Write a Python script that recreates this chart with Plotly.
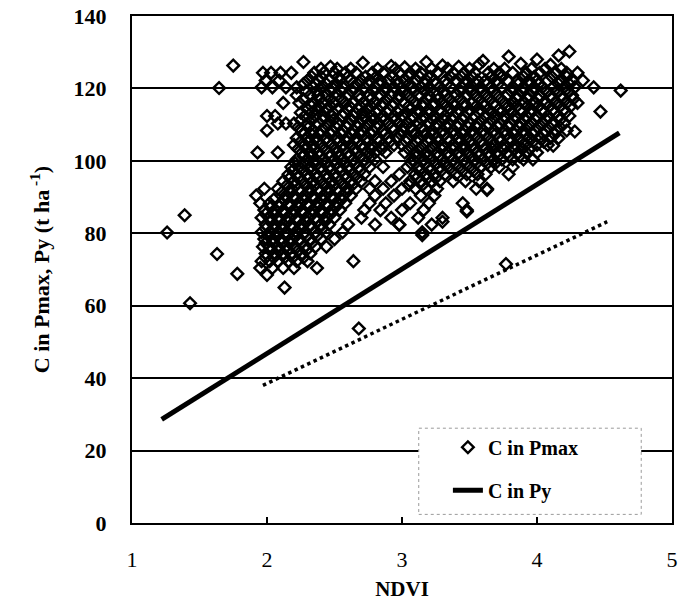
import plotly.graph_objects as go

# ---- C in Pmax scatter: rows of points (NDVI values at each C level) ----
row_levels = [124.3, 122.2, 120.3, 118.1, 116.0, 114.2, 112.4, 110.3, 108.4, 106.3, 104.4,
              102.3, 100.4, 98.3, 96.3, 94.4, 92.3, 90.4, 88.3, 86.4, 84.3, 82.4, 80.3,
              78.4, 76.3, 74.4, 72.3, 70.4]

r124 = [1.97, 2.03, 2.10, 2.18, 2.35, 2.42, 2.50, 2.58, 2.66, 2.78, 2.86, 2.98, 3.06, 3.14, 3.26,
        3.38, 3.46, 3.54, 3.64, 3.72, 3.82, 3.92, 4.02, 4.14, 4.22, 4.30]
r122 = [1.99, 2.09, 2.30, 2.38, 2.46, 2.54, 2.62, 2.70, 2.76, 2.84, 2.90, 2.96, 3.02, 3.10, 3.18,
        3.24, 3.32, 3.40, 3.48, 3.56, 3.62, 3.70, 3.78, 3.86, 3.94, 4.00, 4.08, 4.18, 4.26, 4.34]
r120 = [1.96, 2.04, 2.14, 2.22, 2.34, 2.40, 2.48, 2.56, 2.64, 2.72, 2.80, 2.88, 2.94, 3.00, 3.08,
        3.14, 3.20, 3.28, 3.36, 3.44, 3.50, 3.58, 3.66, 3.74, 3.82, 3.90, 3.98, 4.04, 4.12, 4.20, 4.28]
r118 = [2.22, 2.32, 2.38, 2.44, 2.52, 2.60, 2.68, 2.76, 2.84, 2.92, 2.98, 3.04, 3.12, 3.20, 3.26,
        3.32, 3.40, 3.48, 3.54, 3.62, 3.70, 3.78, 3.86, 3.94, 4.02, 4.10, 4.18, 4.26]
r116 = [2.12, 2.24, 2.34, 2.42, 2.50, 2.58, 2.64, 2.72, 2.80, 2.86, 2.94, 3.02, 3.10, 3.16, 3.24,
        3.30, 3.38, 3.46, 3.52, 3.60, 3.68, 3.76, 3.82, 3.90, 3.98, 4.06, 4.14, 4.22, 4.30]
r114 = [2.30, 2.36, 2.44, 2.52, 2.60, 2.68, 2.74, 2.82, 2.90, 2.98, 3.06, 3.12, 3.20, 3.28, 3.36,
        3.42, 3.50, 3.58, 3.64, 3.72, 3.80, 3.88, 3.96, 4.04, 4.12, 4.20]
r112 = [2.00, 2.06, 2.28, 2.36, 2.42, 2.48, 2.56, 2.64, 2.72, 2.78, 2.86, 2.94, 3.00, 3.08, 3.16,
        3.24, 3.32, 3.38, 3.46, 3.54, 3.62, 3.70, 3.76, 3.84, 3.92, 4.00, 4.08, 4.16, 4.24]
r110 = [2.08, 2.14, 2.20, 2.30, 2.38, 2.46, 2.52, 2.60, 2.68, 2.76, 2.82, 2.90, 2.98, 3.04, 3.12,
        3.20, 3.26, 3.34, 3.42, 3.50, 3.56, 3.64, 3.72, 3.80, 3.88, 3.96, 4.04, 4.12, 4.20]
r108 = [2.00, 2.26, 2.34, 2.40, 2.48, 2.56, 2.64, 2.70, 2.78, 2.86, 2.94, 3.00, 3.08, 3.16, 3.22,
        3.30, 3.38, 3.46, 3.52, 3.60, 3.68, 3.76, 3.84, 3.90, 3.98, 4.06, 4.14, 4.22]
r106 = [2.22, 2.30, 2.36, 2.44, 2.52, 2.60, 2.66, 2.74, 2.82, 2.90, 2.96, 3.04, 3.12, 3.20, 3.26,
        3.34, 3.42, 3.48, 3.56, 3.64, 3.72, 3.80, 3.86, 3.94, 4.02, 4.10, 4.16]
r104 = [2.20, 2.28, 2.34, 2.40, 2.48, 2.56, 2.62, 2.70, 2.78, 2.86, 2.94, 3.00, 3.08, 3.16, 3.24,
        3.30, 3.38, 3.46, 3.52, 3.60, 3.68, 3.76, 3.84, 3.92, 4.00, 4.08]
r102 = [1.93, 2.08, 2.26, 2.32, 2.38, 2.46, 2.52, 2.60, 2.66, 2.74, 2.80, 2.88, 3.02, 3.10, 3.18,
        3.26, 3.34, 3.42, 3.48, 3.56, 3.64, 3.70, 3.78, 3.86, 3.92, 4.00]
r100 = [2.22, 2.30, 2.36, 2.42, 2.50, 2.56, 2.64, 2.72, 2.80, 3.08, 3.16, 3.22, 3.30, 3.38, 3.46,
        3.54, 3.60, 3.68, 3.74, 3.82, 3.90, 3.97]
r98 = [2.18, 2.24, 2.32, 2.40, 2.46, 2.54, 2.60, 2.68, 2.76, 2.86, 3.04, 3.12, 3.20, 3.28, 3.34,
       3.42, 3.50, 3.58, 3.66, 3.72, 3.82]
r96 = [2.16, 2.22, 2.30, 2.36, 2.44, 2.50, 2.58, 2.64, 2.72, 2.98, 3.10, 3.18, 3.24, 3.32, 3.40,
       3.48, 3.56, 3.62, 3.79]
r94 = [2.12, 2.20, 2.26, 2.34, 2.40, 2.48, 2.54, 2.62, 2.70, 2.80, 2.92, 3.06, 3.14, 3.22, 3.28,
       3.38, 3.47, 3.57]
r92 = [1.98, 2.08, 2.18, 2.24, 2.32, 2.38, 2.46, 2.52, 2.60, 2.66, 2.76, 2.86, 3.00, 3.10, 3.18,
       3.26, 3.55, 3.63]
r90 = [1.92, 2.14, 2.20, 2.28, 2.34, 2.42, 2.48, 2.56, 2.62, 2.80, 2.94, 3.14, 3.24]
r88 = [1.95, 2.02, 2.10, 2.16, 2.24, 2.30, 2.38, 2.44, 2.52, 2.58, 2.76, 2.88, 3.06, 3.20, 3.45]
r86 = [1.98, 2.06, 2.12, 2.20, 2.26, 2.34, 2.40, 2.48, 2.54, 2.72, 2.84, 3.00, 3.16, 3.48]
r84 = [1.96, 2.02, 2.08, 2.16, 2.22, 2.30, 2.36, 2.44, 2.50, 2.70, 2.92, 3.12, 3.30]
r82 = [1.99, 2.06, 2.12, 2.18, 2.26, 2.32, 2.40, 2.46, 2.60, 2.80, 2.98, 3.22]
r80 = [1.96, 2.02, 2.08, 2.14, 2.22, 2.28, 2.36, 2.44, 2.56, 3.15]
r78 = [1.98, 2.04, 2.10, 2.18, 2.24, 2.32, 2.40, 2.50]
r76 = [1.97, 2.02, 2.08, 2.14, 2.20, 2.28, 2.36, 2.44]
r74 = [1.99, 2.06, 2.12, 2.18, 2.26, 2.32]
r72 = [1.96, 2.02, 2.08, 2.16, 2.22, 2.30, 2.64]
r70 = [1.95, 2.04, 2.12, 2.20, 2.37]

# in-between rows of the dense core
mid_levels = [125.4, 123.2, 121.2, 119.2, 117.1, 115.1, 113.3, 111.3, 109.3, 107.3, 105.3,
              103.3, 101.3, 99.3, 97.3, 95.3, 93.3, 91.3, 89.3, 87.3, 85.3, 83.3, 81.3,
              79.3, 77.3, 75.3, 73.3]
m125 = [2.40, 2.52, 2.62, 2.82, 2.95, 3.10, 3.22, 3.34, 3.50, 3.68, 3.76, 3.96, 4.06, 4.18]
m123 = [2.33, 2.40, 2.53, 2.60, 2.73, 2.81, 2.93, 3.05, 3.13, 3.21, 3.36, 3.44, 3.52, 3.66, 3.74,
        3.90, 3.98, 4.11, 4.22]
m121 = [2.27, 2.36, 2.44, 2.51, 2.67, 2.75, 2.83, 2.97, 3.05, 3.17, 3.25, 3.33, 3.47, 3.55, 3.63,
        3.71, 3.86, 3.95, 4.01, 4.16, 4.24]
m119 = [2.29, 2.37, 2.47, 2.55, 2.63, 2.79, 2.87, 3.01, 3.09, 3.17, 3.31, 3.43, 3.51, 3.59, 3.67,
        3.81, 3.89, 3.97, 4.07, 4.15, 4.23]
m117 = [2.27, 2.39, 2.47, 2.55, 2.69, 2.77, 2.89, 2.97, 3.07, 3.19, 3.27, 3.35, 3.43, 3.57, 3.65,
        3.73, 3.85, 3.93, 4.01, 4.11, 4.19, 4.27]
m115 = [2.33, 2.39, 2.47, 2.61, 2.69, 2.77, 2.85, 2.93, 3.05, 3.15, 3.23, 3.33, 3.39, 3.47, 3.55,
        3.61, 3.69, 3.79, 3.85, 3.93, 4.01, 4.09, 4.17, 4.25]
m113 = [2.25, 2.33, 2.49, 2.57, 2.65, 2.71, 2.81, 2.89, 2.97, 3.03, 3.13, 3.21, 3.29, 3.41, 3.49,
        3.57, 3.67, 3.73, 3.81, 3.89, 3.95, 4.05, 4.13, 4.21]
m111 = [2.25, 2.33, 2.41, 2.49, 2.63, 2.71, 2.79, 2.87, 2.95, 3.07, 3.15, 3.23, 3.31, 3.37, 3.45,
        3.59, 3.67, 3.75, 3.83, 3.91, 3.99, 4.07, 4.17]
m109 = [2.23, 2.31, 2.43, 2.51, 2.59, 2.67, 2.73, 2.81, 2.93, 3.01, 3.07, 3.15, 3.25, 3.33, 3.41,
        3.49, 3.55, 3.63, 3.71, 3.79, 3.87, 3.93, 4.01, 4.09, 4.17]
m107 = [2.27, 2.33, 2.39, 2.47, 2.55, 2.63, 2.69, 2.77, 2.87, 2.99, 3.09, 3.17, 3.23, 3.31, 3.39,
        3.45, 3.53, 3.61, 3.69, 3.77, 3.83, 3.91, 3.97, 4.05, 4.13]
m105 = [2.25, 2.31, 2.37, 2.45, 2.53, 2.59, 2.67, 2.75, 2.83, 2.91, 3.03, 3.11, 3.19, 3.27, 3.35,
        3.43, 3.51, 3.59, 3.67, 3.73, 3.81, 3.89, 3.97, 4.05]
m103 = [2.23, 2.29, 2.35, 2.43, 2.51, 2.57, 2.65, 2.71, 2.77, 2.85, 3.05, 3.13, 3.21, 3.29, 3.37,
        3.45, 3.53, 3.61, 3.67, 3.75, 3.83, 3.89, 3.95]
m101 = [2.27, 2.33, 2.39, 2.47, 2.53, 2.61, 2.69, 2.77, 3.11, 3.19, 3.27, 3.35, 3.43, 3.51, 3.57,
        3.65, 3.71, 3.79, 3.87]
m99 = [2.21, 2.27, 2.35, 2.43, 2.51, 2.57, 2.65, 2.73, 3.07, 3.17, 3.25, 3.31, 3.39, 3.47, 3.55,
       3.63, 3.69]
m97 = [2.19, 2.27, 2.33, 2.41, 2.47, 2.55, 2.61, 2.69, 3.13, 3.21, 3.29, 3.37, 3.45, 3.53]
m95 = [2.17, 2.23, 2.31, 2.37, 2.45, 2.51, 2.59, 2.67, 3.11, 3.19, 3.25]
m93 = [2.15, 2.21, 2.29, 2.35, 2.43, 2.49, 2.57, 2.63, 3.05, 3.15]
m91 = [2.11, 2.17, 2.25, 2.31, 2.39, 2.45, 2.53, 2.59]
m89 = [2.05, 2.13, 2.21, 2.27, 2.35, 2.41, 2.49, 2.55]
m87 = [2.03, 2.09, 2.17, 2.23, 2.31, 2.37, 2.45, 2.51]
m85 = [1.99, 2.05, 2.13, 2.19, 2.27, 2.33, 2.41, 2.47]
m83 = [2.03, 2.09, 2.15, 2.23, 2.29, 2.37, 2.43]
m81 = [1.99, 2.05, 2.11, 2.19, 2.25, 2.33, 2.41]
m79 = [2.01, 2.07, 2.15, 2.21, 2.29, 2.37]
m77 = [1.99, 2.05, 2.11, 2.17, 2.25, 2.33]
m75 = [2.03, 2.09, 2.15, 2.23, 2.29]
m73 = [1.99, 2.05, 2.13, 2.19, 2.27]

row_ndvi = [r124, r122, r120, r118, r116, r114, r112, r110, r108, r106, r104, r102, r100,
            r98, r96, r94, r92, r90, r88, r86, r84, r82, r80, r78, r76, r74, r72, r70]
mid_ndvi = [m125, m123, m121, m119, m117, m115, m113, m111, m109, m107, m105, m103, m101,
            m99, m97, m95, m93, m91, m89, m87, m85, m83, m81, m79, m77, m75, m73]

# isolated points
extra_ndvi = [4.24, 4.16, 3.79, 4.00, 3.60, 2.27, 2.71, 3.18, 3.30, 3.57,
              1.75, 2.47, 2.92, 3.88, 4.10, 3.02, 3.42, 1.645, 4.42, 4.62,
              4.47, 4.28, 4.12, 3.63, 3.48, 3.30, 2.98, 3.15, 1.39, 1.26,
              1.63, 1.78, 1.43, 2.13, 2.00, 2.68, 3.77]
extra_c = [130.2, 129.1, 128.8, 128.0, 127.6, 127.3, 127.1, 127.3, 126.3, 126.6,
           126.3, 126.0, 126.2, 126.8, 126.5, 125.8, 126.0, 120.1, 120.3, 119.4,
           113.6, 108.1, 104.2, 92.0, 86.0, 83.2, 82.3, 79.5, 85.0, 80.2,
           74.3, 68.8, 60.7, 65.0, 68.5, 53.7, 71.5]

# ---- C in Py regression lines ----
py_ndvi = [1.22, 4.61]
py_c = [28.6, 107.7]
dotted_ndvi = [1.97, 4.52]
dotted_c = [38.0, 83.2]

x_ticks = [1, 2, 3, 4, 5]
y_ticks = [0, 20, 40, 60, 80, 100, 120, 140]

pmax_x, pmax_y = [], []
for lvl, xs in list(zip(row_levels, row_ndvi)) + list(zip(mid_levels, mid_ndvi)):
    pmax_x.extend(xs)
    pmax_y.extend([lvl] * len(xs))
pmax_x.extend(extra_ndvi)
pmax_y.extend(extra_c)

SERIF = "Liberation Serif"

fig = go.Figure()
fig.add_trace(go.Scatter(
    x=pmax_x, y=pmax_y, mode="markers", name="C in Pmax", legendgroup="a",
    marker=dict(symbol="diamond-open", size=9, color="black", line=dict(width=2.4, color="black")),
))
fig.add_trace(go.Scatter(
    x=py_ndvi, y=py_c, mode="lines", name="C in Py", legendgroup="b",
    line=dict(color="black", width=5),
))
fig.add_trace(go.Scatter(
    x=dotted_ndvi, y=dotted_c, mode="lines", showlegend=False,
    line=dict(color="black", width=3.5, dash="dot"),
))

# legend box (white with dotted grey border)
fig.add_shape(type="rect", xref="paper", yref="paper", x0=0.531, x1=0.943, y0=0.017, y1=0.187,
              fillcolor="white", line=dict(color="#9a9a9a", width=1, dash="dot"), layer="above")

fig.update_layout(
    width=689, height=605,
    margin=dict(l=132, r=17, t=16, b=82, autoexpand=False),
    plot_bgcolor="white", paper_bgcolor="white",
    showlegend=True,
    legend=dict(x=0.585, y=0.188, xanchor="left", yanchor="top",
                bgcolor="rgba(0,0,0,0)", borderwidth=0,
                traceorder="grouped", tracegroupgap=14,
                font=dict(family=SERIF, size=20, color="black", weight="bold")),
    font=dict(family=SERIF, color="black"),
)
fig.update_xaxes(
    range=[1, 5], tickvals=x_ticks, ticktext=[str(v) for v in x_ticks],
    ticks="inside", ticklen=6, tickwidth=1.5, tickcolor="black",
    showline=True, linecolor="black", linewidth=2, mirror=True,
    showgrid=False, zeroline=False, automargin=False,
    tickfont=dict(family=SERIF, size=22, color="black"),
    ticklabelstandoff=16,
    title=dict(text="NDVI", font=dict(family=SERIF, size=21, color="black", weight="bold"), standoff=10),
)
fig.update_yaxes(
    range=[0, 140], tickvals=y_ticks, ticktext=[str(v) for v in y_ticks],
    ticks="", showline=True, linecolor="black", linewidth=2, mirror=True,
    showgrid=True, gridcolor="black", gridwidth=1.5, zeroline=False, automargin=False,
    tickfont=dict(family=SERIF, size=22, color="black", weight="bold"),
    ticklabelstandoff=19,
    title=dict(text="C in Pmax, Py (t ha<sup> -1</sup>)",
               font=dict(family=SERIF, size=22, color="black", weight="bold"), standoff=18),
)

fig.write_html(
    "out.html",
    config=dict(displayModeBar=False),
    post_script="document.body.style.margin='0px'; document.body.style.overflow='hidden';",
)
